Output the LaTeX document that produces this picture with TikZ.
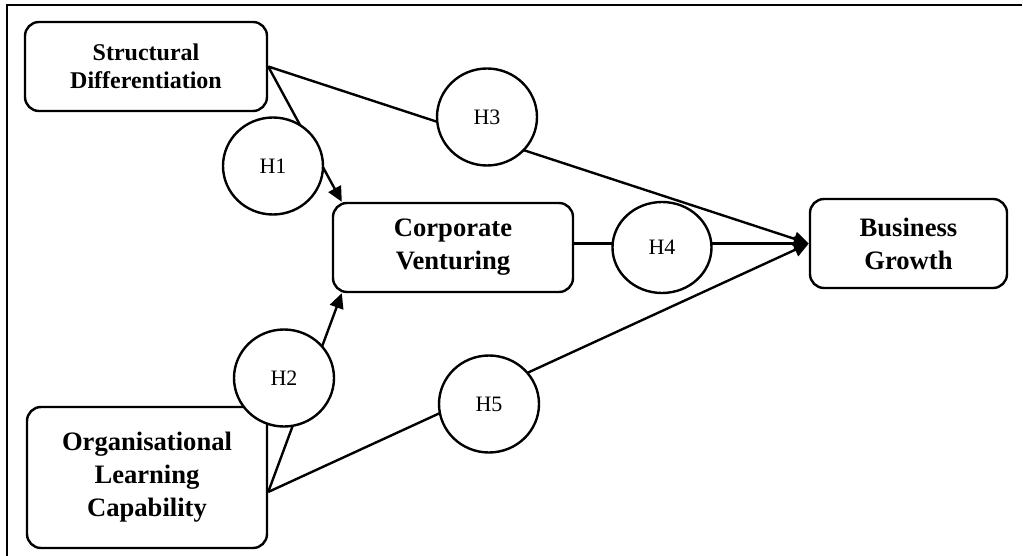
\documentclass[tikz,border=0pt]{standalone}
\usepackage{fontspec}
\setmainfont{Liberation Serif}
\usetikzlibrary{arrows.meta,shapes.geometric}

\begin{document}
\begin{tikzpicture}[x=0.5pt,y=-0.5pt,line width=1.2pt,
  box/.style={draw,rounded corners=7pt,align=center,inner sep=0pt,
    font=\fontsize{13.3}{16.5}\selectfont\bfseries},
  hyp/.style={draw,fill=white,ellipse,inner sep=0pt,
    minimum width=50pt,minimum height=48.5pt,font=\fontsize{11}{13}\selectfont},
  arr/.style={-{Triangle[length=7.5pt,width=7pt]}}]

\useasboundingbox (0,0) rectangle (1023,556);

\draw[line width=1pt] (1022,5.5) -- (7,5.5) -- (7,556);% рамка

\node[box,minimum width=121pt,minimum height=44.5pt,
  font=\fontsize{12}{14}\selectfont\bfseries] (SD) at (146,66.5) {Structural\\Differentiation};
\node[box,minimum width=120pt,minimum height=44.5pt] (CV) at (453,247.5) {Corporate\\Venturing};
\node[box,minimum width=98.5pt,minimum height=44.5pt] (BG) at (908.5,243.5) {Business\\Growth};
\node[box,minimum width=120pt,minimum height=70.5pt] (OLC) at (147,477.5) {Organisational\\Learning\\Capability};% блоки

\draw[arr] (SD.east) -- ([xshift=5pt]CV.north west);
\draw[arr] (SD.east) -- (BG.west);
\draw[arr] (CV.east |- BG.west) -- (BG.west);% связи
\draw[arr] ([yshift=-7.25pt]OLC.east) -- ([xshift=5pt]CV.south west);
\draw[arr] ([yshift=-7.25pt]OLC.east) -- (BG.west);

\node[hyp] (H1) at (273,166) {H1};
\node[hyp] (H2) at (284,378) {H2};
\node[hyp] (H3) at (487,117) {H3};% гипотезы поверх линий
\node[hyp,minimum width=49.5pt,minimum height=45.5pt] (H4) at (662,247.5) {H4};
\node[hyp] (H5) at (489,404) {H5};

\end{tikzpicture}
\end{document}
